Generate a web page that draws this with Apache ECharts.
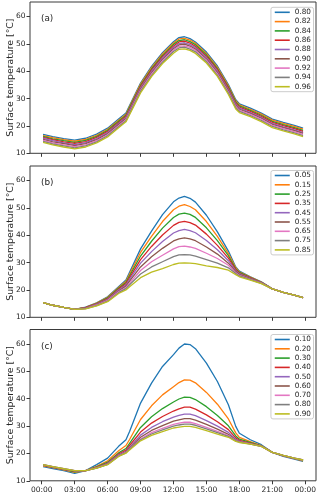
<!DOCTYPE html>
<html>
<head>
<meta charset="utf-8">
<script src="https://cdn.jsdelivr.net/npm/echarts@6/dist/echarts.min.js"></script>
<style>
  html, body { margin: 0; padding: 0; background: #fff; }
  #chart { width: 320px; height: 496px; }
</style>
</head>
<body>
<div id="chart"></div>
<script>
// time of day in hours
var hours = [0.12, 1, 2, 3, 4, 5, 6, 7, 7.67, 8, 9, 10, 11, 12, 12.5, 13, 13.5, 14, 15, 16, 17, 17.67, 18, 19, 20, 21, 22, 23, 23.8];
var hourTicks = [0, 3, 6, 9, 12, 15, 18, 21, 24];
var tempTicks = [10, 20, 30, 40, 50, 60];

// (a) emissivity
var namesA = ['0.80', '0.82', '0.84', '0.86', '0.88', '0.90', '0.92', '0.94', '0.96'];
var a080 = [16.9,16.1,15.4,14.8,15.5,17.0,19.2,22.5,24.7,27.5,35.7,41.8,46.8,50.8,52.3,52.6,51.9,50.7,47.0,41.9,35.1,29.6,28.1,26.5,24.7,22.5,21.3,20.2,19.2];
var a082 = [16.5,15.7,15.0,14.4,15.1,16.6,18.8,22.1,24.3,27.1,35.3,41.3,46.3,50.3,51.8,52.0,51.4,50.2,46.5,41.4,34.7,29.2,27.7,26.1,24.3,22.1,20.9,19.8,18.8];
var a084 = [16.2,15.3,14.6,14.0,14.7,16.2,18.4,21.7,23.9,26.7,34.8,40.8,45.8,49.8,51.2,51.5,50.8,49.7,46.0,40.9,34.2,28.8,27.3,25.7,23.9,21.7,20.5,19.4,18.4];
var a086 = [15.8,15.0,14.2,13.6,14.3,15.8,18.0,21.3,23.5,26.2,34.4,40.4,45.3,49.2,50.7,51.0,50.3,49.1,45.5,40.5,33.8,28.3,26.9,25.3,23.5,21.3,20.1,19.0,18.0];
var a088 = [15.5,14.6,13.8,13.2,13.9,15.4,17.6,20.9,23.1,25.8,33.9,39.9,44.8,48.7,50.1,50.4,49.7,48.6,45.0,40.0,33.3,27.9,26.5,24.9,23.1,20.9,19.7,18.6,17.6];
var a090 = [15.1,14.2,13.5,12.8,13.5,15.0,17.2,20.5,22.7,25.4,33.5,39.4,44.3,48.2,49.6,49.9,49.2,48.1,44.5,39.5,32.9,27.5,26.1,24.6,22.8,20.6,19.4,18.3,17.3];
var a092 = [14.7,13.8,13.1,12.4,13.1,14.6,16.8,20.1,22.3,25.0,33.0,38.9,43.8,47.7,49.1,49.3,48.7,47.6,44.0,39.0,32.4,27.1,25.7,24.2,22.4,20.2,19.0,17.9,16.9];
var a094 = [14.4,13.4,12.7,12.0,12.7,14.2,16.4,19.7,21.9,24.6,32.6,38.4,43.3,47.2,48.5,48.8,48.1,47.1,43.5,38.5,32.0,26.7,25.3,23.8,22.0,19.8,18.6,17.5,16.5];
var a096 = [14.0,13.1,12.3,11.6,12.3,13.8,16.0,19.3,21.5,24.1,32.1,38.0,42.8,46.6,48.0,48.2,47.6,46.5,43.0,38.1,31.5,26.2,24.9,23.4,21.6,19.4,18.2,17.1,16.1];

// (b)
var namesB = ['0.05', '0.15', '0.25', '0.35', '0.45', '0.55', '0.65', '0.75', '0.85'];
var b005 = [15.4,14.4,13.6,12.9,13.7,15.3,17.5,21.2,23.6,26.5,35.0,41.5,47.5,52.2,53.6,54.2,53.5,52.1,47.3,41.2,34.2,28.4,26.9,24.8,23.0,20.4,19.1,18.1,17.2];
var b015 = [15.4,14.4,13.6,12.9,13.6,15.2,17.3,20.9,23.2,25.8,33.7,39.6,45.0,49.3,50.6,51.2,50.5,49.3,45.0,39.6,33.3,28.1,26.6,24.7,22.9,20.4,19.1,18.1,17.2];
var b025 = [15.4,14.4,13.6,12.9,13.5,15.0,17.1,20.6,22.7,25.2,32.4,37.8,42.6,46.5,47.7,48.1,47.6,46.5,42.7,38.0,32.5,27.7,26.4,24.5,22.8,20.4,19.1,18.1,17.2];
var b035 = [15.4,14.4,13.6,12.9,13.5,14.9,16.8,20.3,22.3,24.5,31.1,35.9,40.1,43.6,44.7,45.1,44.6,43.7,40.4,36.3,31.6,27.4,26.1,24.4,22.7,20.4,19.1,18.1,17.2];
var b045 = [15.4,14.4,13.6,12.9,13.4,14.8,16.6,20.0,21.8,23.9,29.8,34.0,37.7,40.8,41.7,42.1,41.7,40.9,38.1,34.7,30.7,27.0,25.9,24.2,22.7,20.4,19.1,18.1,17.2];
var b055 = [15.4,14.4,13.6,12.9,13.3,14.6,16.4,19.6,21.4,23.2,28.4,32.1,35.2,37.9,38.7,39.0,38.7,38.0,35.7,33.1,29.8,26.7,25.6,24.1,22.6,20.4,19.1,18.1,17.2];
var b065 = [15.4,14.4,13.6,12.9,13.2,14.5,16.2,19.3,20.9,22.5,27.1,30.3,32.7,35.0,35.8,36.0,35.7,35.2,33.4,31.5,29.0,26.3,25.3,23.9,22.5,20.4,19.1,18.1,17.2];
var b075 = [15.4,14.4,13.6,12.9,13.2,14.3,15.9,19.0,20.5,21.9,25.8,28.4,30.3,32.2,32.8,32.9,32.8,32.4,31.1,29.8,28.1,26.0,25.1,23.8,22.4,20.4,19.1,18.1,17.2];
var b085 = [15.4,14.4,13.6,12.9,13.1,14.2,15.7,18.7,20.0,21.2,24.5,26.5,27.8,29.3,29.8,29.9,29.8,29.6,28.8,28.2,27.2,25.6,24.8,23.6,22.3,20.4,19.1,18.1,17.2];

// (c)
var namesC = ['0.10', '0.20', '0.30', '0.40', '0.50', '0.60', '0.70', '0.80', '0.90'];
var c010 = [15.2,14.5,13.7,12.7,13.7,15.9,18.3,22.6,25.0,28.0,38.4,45.7,51.8,56.1,58.5,60.0,59.8,58.3,53.0,46.3,37.8,29.9,27.4,25.0,23.2,20.4,18.9,17.9,17.1];
var c020 = [15.5,14.8,14.0,13.1,13.7,15.3,17.3,21.0,22.9,25.1,32.4,37.4,41.4,44.4,45.9,46.9,46.8,45.8,42.3,38.0,32.6,27.5,25.9,24.3,22.9,20.4,19.1,18.1,17.3];
var c030 = [15.7,15.0,14.2,13.3,13.7,15.1,16.8,20.2,21.8,23.7,29.5,33.4,36.4,38.8,39.9,40.6,40.5,39.7,37.1,33.9,30.1,26.4,25.2,24.0,22.8,20.4,19.2,18.2,17.4];
var c040 = [15.7,15.0,14.2,13.5,13.7,14.9,16.5,19.8,21.2,22.9,27.8,31.1,33.5,35.5,36.3,36.9,36.9,36.2,34.1,31.6,28.7,25.7,24.8,23.8,22.7,20.4,19.2,18.2,17.5];
var c050 = [15.8,15.1,14.3,13.6,13.7,14.8,16.3,19.5,20.8,22.3,26.7,29.5,31.6,33.3,33.9,34.4,34.4,33.8,32.0,30.0,27.7,25.2,24.5,23.6,22.7,20.4,19.2,18.2,17.5];
var c060 = [15.8,15.1,14.3,13.6,13.7,14.7,16.1,19.2,20.6,21.9,25.9,28.4,30.2,31.8,32.3,32.7,32.7,32.2,30.6,28.9,27.0,24.9,24.3,23.6,22.7,20.4,19.3,18.3,17.6];
var c070 = [15.9,15.2,14.4,13.7,13.7,14.7,16.0,19.1,20.4,21.6,25.3,27.6,29.2,30.6,31.1,31.4,31.4,30.9,29.5,28.1,26.5,24.7,24.2,23.5,22.6,20.4,19.3,18.3,17.6];
var c080 = [15.9,15.2,14.4,13.7,13.7,14.6,16.0,19.0,20.2,21.5,25.0,27.1,28.6,30.0,30.4,30.7,30.7,30.3,29.0,27.6,26.2,24.6,24.1,23.4,22.6,20.4,19.3,18.3,17.6];
var c090 = [15.9,15.2,14.4,13.7,13.7,14.6,15.9,18.9,20.1,21.3,24.6,26.6,28.0,29.3,29.6,29.9,29.9,29.5,28.3,27.1,25.9,24.4,24.0,23.4,22.6,20.4,19.3,18.3,17.6];

var colors = ['#1f77b4', '#ff7f0e', '#2ca02c', '#d62728', '#9467bd', '#8c564b', '#e377c2', '#7f7f7f', '#bcbd22'];
var panels = [
  { tag: 'a', names: namesA, data: [a080, a082, a084, a086, a088, a090, a092, a094, a096] },
  { tag: 'b', names: namesB, data: [b005, b015, b025, b035, b045, b055, b065, b075, b085] },
  { tag: 'c', names: namesC, data: [c010, c020, c030, c040, c050, c060, c070, c080, c090] }
];
var tops = [2, 166, 329.5];
var legendTops = [7.3, 170.5, 334.5];
var font = 'DejaVu Sans';
var ink = '#262626';

var myChart = echarts.init(document.getElementById('chart'), null, { renderer: 'canvas' });

var grid = [], xAxis = [], yAxis = [], series = [], legend = [], title = [];
panels.forEach(function (p, pi) {
  grid.push({
    left: 30, width: 286, top: tops[pi], height: 151.3,
    outerBoundsMode: 'none', containLabel: false,
    show: true, borderColor: '#3a3a3a', borderWidth: 1, backgroundColor: '#fff'
  });
  xAxis.push({
    type: 'value', gridIndex: pi, min: -1.07, max: 24.98,
    axisLine: { show: false, onZero: false },
    splitLine: { show: false },
    axisTick: { show: true, length: 3.5, customValues: hourTicks, lineStyle: { color: '#3a3a3a', width: 1 } },
    axisLabel: {
      show: pi === 2, customValues: hourTicks, margin: 5,
      fontSize: 7.5, fontFamily: font, color: ink,
      formatter: function (v) {
        var h = Math.round(v) % 24;
        return (h < 10 ? '0' : '') + h + ':00';
      }
    }
  });
  yAxis.push({
    type: 'value', gridIndex: pi, min: 10, max: 65.3,
    name: 'Surface temperature [°C]', nameLocation: 'middle', nameGap: 15, nameMoveOverlap: false,
    nameTextStyle: { fontSize: 9.3, fontFamily: font, color: ink },
    axisLine: { show: false, onZero: false },
    splitLine: { show: false },
    axisTick: { show: true, length: 3.5, customValues: tempTicks, lineStyle: { color: '#3a3a3a', width: 1 } },
    axisLabel: { customValues: tempTicks, margin: 4.5, fontSize: 7.5, fontFamily: font, color: ink }
  });
  title.push({
    text: '(' + p.tag + ')', left: 36, top: tops[pi] + 7.5,
    textStyle: { fontSize: 8.8, fontWeight: 'normal', fontFamily: font, color: ink }
  });
  var legendNames = [];
  p.names.forEach(function (n, k) {
    var id = p.tag + ' ' + n;
    legendNames.push(id);
    series.push({
      name: id, type: 'line', xAxisIndex: pi, yAxisIndex: pi,
      data: hours.map(function (t, i) { return [t, p.data[k][i]]; }),
      symbol: 'none', color: colors[k],
      lineStyle: { width: 1.3, color: colors[k] },
      animation: false
    });
  });
  legend.push({
    data: legendNames, orient: 'vertical', right: 6.5, top: legendTops[pi],
    itemWidth: 15, itemHeight: 8, itemGap: 2.3,
    padding: [1.5, 2.5, 1.5, 3],
    backgroundColor: 'rgba(255,255,255,0.8)', borderColor: '#cccccc', borderWidth: 1, borderRadius: 2,
    itemStyle: { opacity: 0 },
    lineStyle: { width: 1.6, opacity: 1 },
    selectedMode: false,
    formatter: function (name) { return name.slice(2); },
    textStyle: { fontSize: 7.3, fontFamily: font, color: ink }
  });
});

var option = {
  animation: false,
  title: title,
  grid: grid,
  xAxis: xAxis,
  yAxis: yAxis,
  legend: legend,
  series: series
};
myChart.setOption(option);
window.addEventListener('resize', function () {
  myChart.resize();
});
</script>
</body>
</html>
